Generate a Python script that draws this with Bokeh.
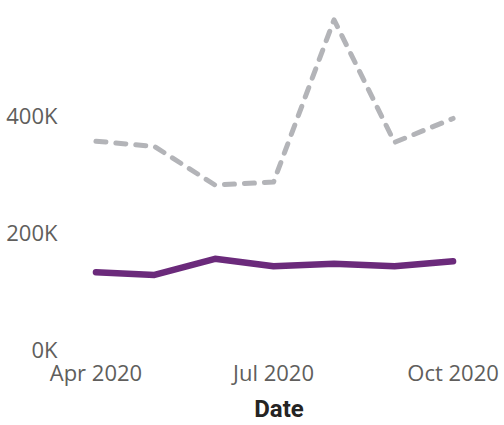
import pandas as pd
from bokeh.plotting import figure
from bokeh.models import Range1d, DatetimeTickFormatter, FixedTicker, CustomJSTickFormatter
from bokeh.embed import file_html
from bokeh.resources import INLINE

# ---- data ----
months = ["2020-04-01", "2020-05-01", "2020-06-01", "2020-07-01",
          "2020-08-01", "2020-09-01", "2020-10-01"]
series_grey = [355000, 346000, 280000, 285000, 563000, 353000, 394000]
series_purple = [130700, 126000, 153600, 141000, 145000, 141000, 149500]
x_tick_months = ["2020-04-01", "2020-07-01", "2020-10-01"]
y_ticks = [0, 200000, 400000]

dates = pd.to_datetime(months)
tick_dates = pd.to_datetime(x_tick_months)

x_start = dates[0] - pd.Timedelta(days=19.7)
x_end = dates[-1] + pd.Timedelta(days=24.3)

p = figure(width=504, height=425, x_axis_type="datetime",
           output_backend="svg", toolbar_location=None,
           x_range=Range1d(x_start, x_end), y_range=Range1d(0, 596000),
           min_border_left=57, min_border_right=4, min_border_top=0,
           min_border_bottom=77)

p.outline_line_color = None
p.grid.visible = False
p.background_fill_color = "white"
p.border_fill_color = "white"

p.line(dates, series_grey, line_color="#B3B4B8", line_width=5,
       line_dash="10 10", line_cap="round", line_join="round")
p.line(dates, series_purple, line_color="#6B2A7B", line_width=6.5,
       line_cap="round", line_join="round")

# y axis
p.yaxis.ticker = FixedTicker(ticks=y_ticks)
p.yaxis.formatter = CustomJSTickFormatter(code="return (tick/1000).toFixed(0) + 'K';")
p.yaxis.axis_line_color = None
p.yaxis.major_tick_line_color = None
p.yaxis.minor_tick_line_color = None
p.yaxis.major_tick_out = 0
p.yaxis.major_tick_in = 0
p.yaxis.major_label_standoff = 0
p.yaxis.major_label_text_font = "Open Sans"
p.yaxis.major_label_text_font_size = "22px"
p.yaxis.major_label_text_color = "#605E5C"

# x axis
p.xaxis.ticker = FixedTicker(ticks=[d.value / 1e6 for d in tick_dates])
p.xaxis.formatter = DatetimeTickFormatter(months="%b %Y", days="%b %Y",
                                          hours="%b %Y", years="%b %Y")
p.xaxis.axis_line_color = None
p.xaxis.major_tick_line_color = None
p.xaxis.minor_tick_line_color = None
p.xaxis.major_tick_out = 0
p.xaxis.major_tick_in = 0
p.xaxis.major_label_standoff = 8
p.xaxis.major_label_text_font = "Open Sans"
p.xaxis.major_label_text_font_size = "22px"
p.xaxis.major_label_text_color = "#605E5C"
p.xaxis.axis_label = "Date"
p.xaxis.axis_label_text_font = "Roboto"
p.xaxis.axis_label_text_font_style = "bold"
p.xaxis.axis_label_text_font_size = "24px"
p.xaxis.axis_label_text_color = "#252423"
p.xaxis.axis_label_standoff = 5

open("out.html", "w").write(file_html(p, INLINE))
